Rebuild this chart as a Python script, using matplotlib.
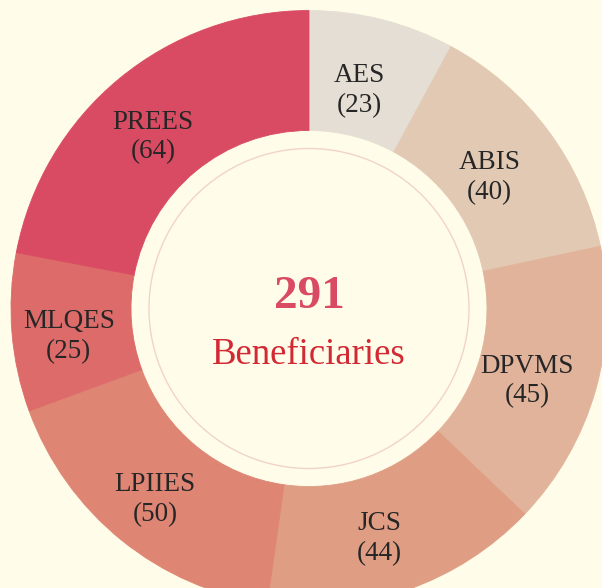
import numpy as np
import matplotlib
matplotlib.use("Agg")
import matplotlib.pyplot as plt
from matplotlib.patches import Circle

# programmes and number of beneficiaries, clockwise from 12 o'clock
names = ["AES", "ABIS", "DPVMS", "JCS", "LPIIES", "MLQES", "PREES"]
counts = [23, 40, 45, 44, 50, 25, 64]
colors = ["#e5ded4", "#e2c9b3", "#e1b39a", "#df9e84", "#de8574", "#dc6b69", "#d94b62"]

total_label = "Beneficiaries"

bg = "#fffde9"
W, H = 602, 588
cx, cy = 309, H - 308.5
r_out, r_in = 298, 178

fig = plt.figure(figsize=(W / 100, H / 100), dpi=100, facecolor=bg)
ax = fig.add_axes([0, 0, 1, 1])
ax.set_facecolor(bg)

wedges, _ = ax.pie(counts, colors=colors, radius=r_out, center=(cx, cy),
                   startangle=90, counterclock=False,
                   wedgeprops=dict(width=r_out - r_in, linewidth=0))
for w in wedges:
    # hairline in the slice colour so no seams show between slices
    w.set_edgecolor(w.get_facecolor())
    w.set_linewidth(0.6)

# thin ring inside the hole
ax.add_patch(Circle((cx, cy), 160, fill=False, edgecolor="#f2d3ca", linewidth=1.0))

# slice labels
serif = ["Liberation Serif", "DejaVu Serif"]
r_lab = 234
for w, name, n in zip(wedges, names, counts):
    ang = np.deg2rad((w.theta1 + w.theta2) / 2)
    x = cx + r_lab * np.cos(ang) - 7
    y = cy + r_lab * np.sin(ang) - 9
    ax.text(x, y, f"{name}\n({n})", ha="center", va="center", fontsize=19.5,
            family=serif, color="#262626", linespacing=1.25)

ax.text(cx, cy + 11, str(sum(counts)), ha="center", va="center", fontsize=34,
        fontweight="bold", family=serif, color="#d94b62")
ax.text(cx, cy - 46, total_label, ha="center", va="center", fontsize=26.5,
        family=serif, color="#d22a35")

ax.set_xlim(0, W)
ax.set_ylim(0, H)
ax.set_aspect("equal")
ax.axis("off")

fig.savefig("out.png", dpi=100, facecolor=bg)
